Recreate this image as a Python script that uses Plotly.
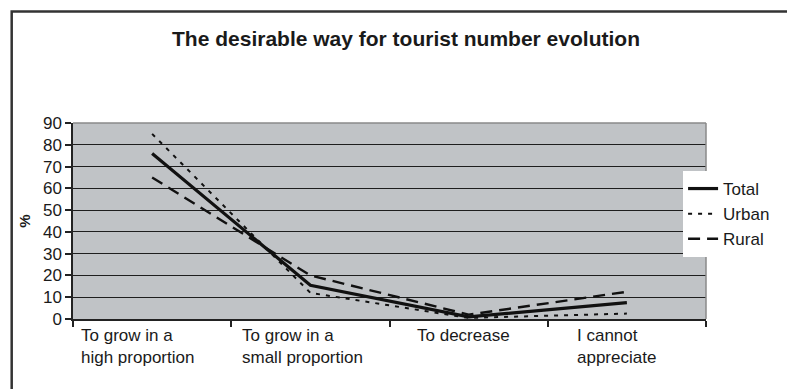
import plotly.graph_objects as go

categories = ["To grow in a high proportion", "To grow in a small proportion", "To decrease", "I cannot appreciate"]
cat_labels = ["To grow in a<br>high proportion", "To grow in a<br>small proportion", "To decrease", "I cannot<br>appreciate"]
total = [76, 15.5, 1, 7.5]
urban = [85, 12, 0.5, 2.5]
rural = [65, 20, 2, 12.5]
y_ticks = [0, 10, 20, 30, 40, 50, 60, 70, 80, 90]

# label placement offsets (px), styling only
label_shifts = [-15, -8, -5, -10]

W, H = 787, 389
L, R, T, B = 73, 79, 123, 70
pw, ph = W - L - R, H - T - B

def px_x(px):
    return (px - L) / pw

def px_y(py):
    return (H - B - py) / ph

fig = go.Figure()
fig.add_trace(go.Scatter(x=categories, y=total, name="Total", mode="lines",
                         line=dict(color="#111111", width=3.2)))
fig.add_trace(go.Scatter(x=categories, y=urban, name="Urban", mode="lines",
                         line=dict(color="#111111", width=2, dash="4px,6px")))
fig.add_trace(go.Scatter(x=categories, y=rural, name="Rural", mode="lines",
                         line=dict(color="#111111", width=2.4, dash="12px,7px")))

font = "Liberation Sans, Arial, sans-serif"

for c, lab, sh in zip(categories, cat_labels, label_shifts):
    fig.add_annotation(x=c, xref="x", y=px_y(324), yref="paper", text=lab,
                       showarrow=False, xanchor="center", yanchor="top", align="left",
                       xshift=sh,
                       font=dict(family=font, size=17, color="#1a1a1a"))

# plot area top/right border (gray)
fig.add_shape(type="line", xref="paper", yref="paper", x0=0, x1=1, y0=1, y1=1,
              line=dict(color="#8a8a8a", width=1.5), layer="above")
fig.add_shape(type="line", xref="paper", yref="paper", x0=1, x1=1, y0=0, y1=1,
              line=dict(color="#8a8a8a", width=1.5), layer="above")
# outer frame
fig.add_shape(type="rect", xref="paper", yref="paper",
              x0=px_x(11.5), x1=px_x(830), y0=px_y(430), y1=px_y(11.5),
              line=dict(color="#333333", width=2.5), layer="above")

fig.update_layout(
    width=W, height=H,
    margin=dict(l=L, r=R, t=T, b=B),
    paper_bgcolor="white",
    plot_bgcolor="#c0c3c6",
    font=dict(family=font, size=17, color="#1a1a1a"),
    title=dict(text="<b>The desirable way for tourist number evolution</b>",
               x=406 / W, xanchor="center", y=1 - 39 / H, yanchor="middle",
               font=dict(family=font, size=21, color="#1a1a1a")),
    showlegend=True,
    legend=dict(x=px_x(685), xanchor="left", y=px_y(171), yanchor="top",
                bgcolor="white", borderwidth=0,
                font=dict(family=font, size=17, color="#1a1a1a"),
                tracegroupgap=0),
    xaxis=dict(type="category", categoryorder="array", categoryarray=categories,
               range=[-0.5, 3.5],
               showticklabels=False, tickson="boundaries", ticks="outside",
               ticklen=6, tickcolor="#222222", tickwidth=1.5,
               showline=True, linecolor="#222222", linewidth=1.5,
               showgrid=False, zeroline=False, fixedrange=True),
    yaxis=dict(range=[0, 90], tickvals=y_ticks, ticks="outside", ticklen=6,
               tickcolor="#222222", tickwidth=1.5,
               showline=True, linecolor="#222222", linewidth=1.5,
               showgrid=True, gridcolor="#1e1e1e", gridwidth=1.3,
               zeroline=False, tickfont=dict(size=17),
               title=dict(text="<b>%</b>", standoff=9, font=dict(size=15))),
)

fig.write_html("out.html")
